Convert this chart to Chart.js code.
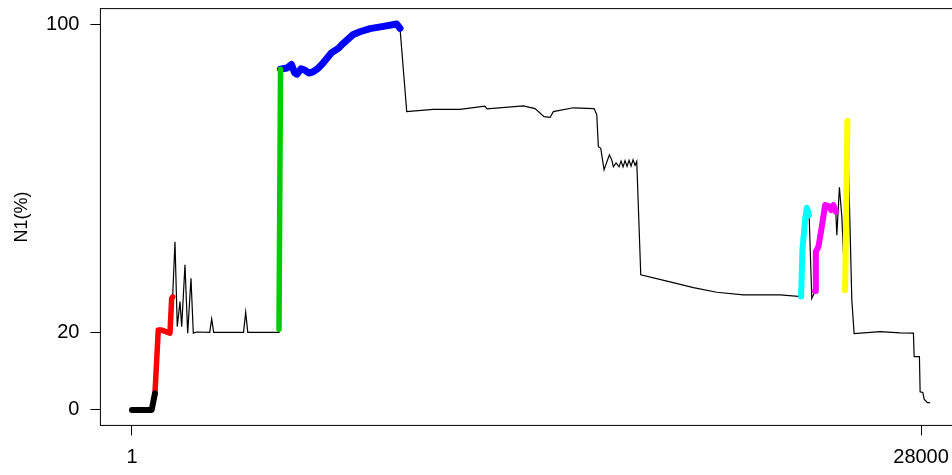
<!DOCTYPE html>
<html>
<head>
<meta charset="utf-8">
<script src="https://cdn.jsdelivr.net/npm/chart.js@4/dist/chart.umd.min.js"></script>
<style>
  html, body { margin: 0; padding: 0; background: #fff; overflow: hidden; }
  #wrap { position: absolute; left: 0; top: 0; width: 960px; height: 475px; }
</style>
</head>
<body>
<div id="wrap"><canvas id="c" width="960" height="475"></canvas></div>
<script>
// Position along the sequence and N1 share (%) at that position
const positions = [
  1, 700, 817, 934, 1055, 1350, 1410, 1445, 1527, 1608, 1705, 1765, 1882, 1978, 2095, 2177, 2297,
  2760, 2830, 2900, 3960, 4036, 4110, 5193, 5218, 5272,
  5400, 5502, 5662, 5768, 5857, 5999, 6141, 6283, 6425, 6602, 6780, 7088, 7323, 7500, 7855, 8093,
  8448, 8920, 9395, 9512,
  9750, 10694, 11642, 12520, 12600, 13888, 14303, 14623, 14836, 14953, 15663, 16397,
  16493, 16550, 16635, 16752, 16941, 17025, 17082, 17178,
  17284, 17355, 17426, 17497, 17568, 17639, 17710, 17781, 17852, 17912,
  18054, 19095, 19922, 20752, 21696, 22999,
  23744, 23790, 23886, 23946, 24028, 24123,
  24241, 24266, 24358, 24478, 24596, 24713, 24809, 24890, 24975,
  25011, 25103, 25188, 25305, 25387, 25543, 25625,
  26548, 27257, 27729, 27754, 27942, 27967, 28063, 28109, 28227, 28322
];
const n1 = [
  0, 0, 4.3, 20.7, 20.7, 19.9, 28.9, 29.3, 43.6, 21.6, 28.1, 21.6, 37.6, 19.9, 34.1, 19.9, 20.2,
  20.1, 23.6, 20.1, 20.1, 25.3, 20.1, 20.1, 20.9, 88.3,
  88.5, 88.6, 89.5, 87.4, 87.0, 88.4, 88.0, 87.3, 87.6, 88.5, 89.9, 92.6, 93.7, 95.0, 97.3, 98.0,
  98.8, 99.4, 100, 98.9,
  77.3, 77.9, 77.9, 78.7, 78.0, 78.8, 78.1, 76.0, 75.8, 77.3, 78.3, 78.1,
  76.5, 68.2, 67.8, 62.2, 66.1, 64.8, 63.0, 64.0,
  63.0, 64.5, 63.0, 64.6, 63.1, 64.7, 63.2, 64.8, 63.4, 64.4,
  35.0, 33.2, 31.7, 30.5, 29.8, 29.8,
  29.4, 41.5, 49.2, 52.4, 50.5, 28.9,
  30.8, 41.0, 42.3, 47.5, 53.1, 52.8, 51.8, 53.1, 51.4,
  45.3, 57.7, 50.1, 31.0, 74.9, 28.5, 19.8,
  20.3, 20.0, 19.9, 13.8, 13.8, 4.7, 4.5, 2.8, 1.9, 1.9
];

// Highlighted stretches of the trace (start / end position and colour)
const segStart  = [1,        817,       5218,      5272,      23744,     24241,     25305];
const segEnd    = [817,      1445,      5272,      9512,      24028,     24975,     25387];
const segColour = ['#000000', '#ff0000', '#00cd00', '#0000ff', '#00ffff', '#ff00ff', '#ffff00'];
const segWidth  = [6,        5.5,       5.5,       7,         6,         6,         6];

const xTickValues = [1, 28000];
const yTickValues = [0, 20, 100];

const trace = positions.map((p, i) => ({ x: p, y: n1[i] }));

const datasets = segStart.map((s, k) => ({
  data: trace.filter(pt => pt.x >= s && pt.x <= segEnd[k]),
  borderColor: segColour[k],
  borderWidth: segWidth[k],
  borderCapStyle: 'round',
  borderJoinStyle: 'round',
  pointRadius: 0,
  tension: 0,
  fill: false,
  order: 1
}));
datasets.push({
  data: trace,
  borderColor: '#000000',
  borderWidth: 1.2,
  pointRadius: 0,
  tension: 0,
  fill: false,
  order: 5
});

// Box around the plotting region
const frame = {
  id: 'frame',
  beforeDatasetsDraw(chart) {
    const { ctx, chartArea: a } = chart;
    ctx.save();
    ctx.strokeStyle = '#000';
    ctx.lineWidth = 1;
    ctx.strokeRect(a.left, a.top, a.right - a.left, a.bottom - a.top);
    ctx.restore();
  }
};

const font = { family: '"Liberation Sans", Arial, sans-serif', size: 20 };

new Chart(document.getElementById('c'), {
  type: 'line',
  data: { datasets },
  options: {
    responsive: false,
    animation: false,
    devicePixelRatio: 1,
    layout: { padding: { top: 8.6, right: 7.4, left: 0, bottom: 0 } },
    plugins: { legend: { display: false }, tooltip: { enabled: false } },
    scales: {
      x: {
        type: 'linear',
        min: -1119,
        max: 29119,
        afterFit(s) { s.height = 49.6; s.paddingLeft = 0; s.paddingRight = 0; },
        afterBuildTicks(s) { s.ticks = xTickValues.map(v => ({ value: v })); },
        ticks: {
          autoSkip: false, maxRotation: 0, padding: 10, color: '#000', font,
          callback: v => String(v)
        },
        grid: { drawOnChartArea: false, drawTicks: true, tickLength: 10, color: '#000', lineWidth: 1 },
        border: { display: false }
      },
      y: {
        type: 'linear',
        min: -4,
        max: 104,
        afterFit(s) { s.width = 100.4; s.paddingTop = 0; s.paddingBottom = 0; },
        afterBuildTicks(s) { s.ticks = yTickValues.map(v => ({ value: v })); },
        ticks: {
          autoSkip: false, padding: 11, color: '#000', font,
          callback: v => String(v)
        },
        grid: { drawOnChartArea: false, drawTicks: true, tickLength: 10, color: '#000', lineWidth: 1 },
        border: { display: false },
        title: {
          display: true,
          text: 'N1(%)',
          color: '#000',
          font: { family: '"Liberation Sans", Arial, sans-serif', size: 18 },
          padding: { top: 11, bottom: 0 }
        }
      }
    }
  },
  plugins: [frame]
});
</script>
</body>
</html>
